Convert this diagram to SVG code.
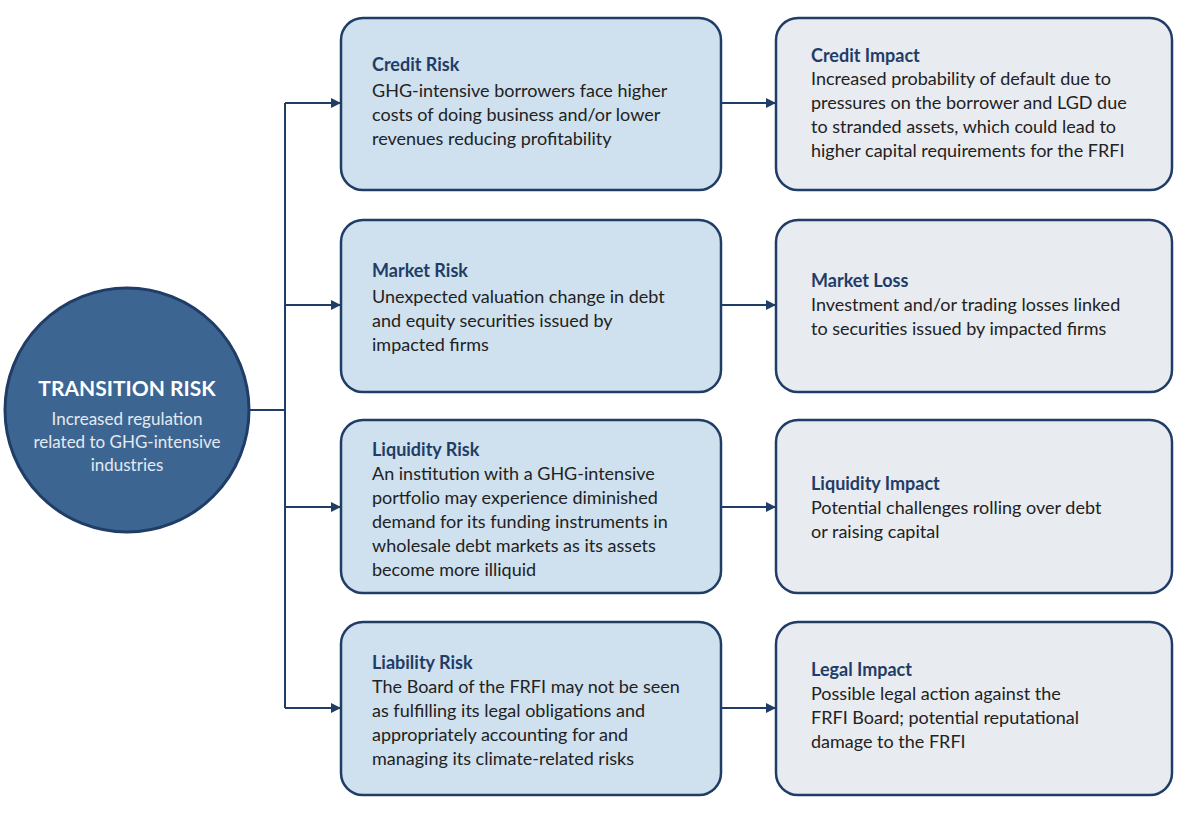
<svg xmlns="http://www.w3.org/2000/svg" width="1200" height="824" viewBox="0 0 1200 824">
<style>
.l{fill:#cfe0ee;stroke:#1f3d66;stroke-width:2.5}
.r{fill:#e8ebf0;stroke:#1f3d66;stroke-width:2.5}
.t{font-family:Lato,"Liberation Sans",sans-serif;font-weight:bold;font-size:18px;fill:#1f3d66}
.b{font-family:Lato,"Liberation Sans",sans-serif;font-size:18px;fill:#222}
.c{stroke:#1f3d66;stroke-width:2;fill:none}
</style>
<defs><marker id="a" markerWidth="10" markerHeight="10" refX="9" refY="5" orient="auto" markerUnits="userSpaceOnUse"><path d="M0,0 L10,5 L0,10 Z" fill="#1f3d66"/></marker></defs>
<rect width="1200" height="824" fill="#fff"/>
<g id="connectors">
<path class="c" d="M249,410 H285 M285,103 V708"/>
<path class="c" marker-end="url(#a)" d="M285,103 H340"/>
<path class="c" marker-end="url(#a)" d="M285,305 H340"/>
<path class="c" marker-end="url(#a)" d="M285,507 H340"/>
<path class="c" marker-end="url(#a)" d="M285,708 H340"/>
<path class="c" marker-end="url(#a)" d="M721,103 H775"/>
<path class="c" marker-end="url(#a)" d="M721,305 H775"/>
<path class="c" marker-end="url(#a)" d="M721,507 H775"/>
<path class="c" marker-end="url(#a)" d="M721,708 H775"/>
</g>
<g id="transition">
<circle cx="127" cy="410" r="122" fill="#3d6591" stroke="#1f3d66" stroke-width="3"/>
<text x="127" y="396" text-anchor="middle" font-family="Lato,'Liberation Sans',sans-serif" font-weight="bold" font-size="21" fill="#fff">TRANSITION RISK</text>
<text x="127" y="425" text-anchor="middle" font-family="Lato,'Liberation Sans',sans-serif" font-size="17" fill="#e3eaf3">Increased regulation</text>
<text x="127" y="448" text-anchor="middle" font-family="Lato,'Liberation Sans',sans-serif" font-size="17" fill="#e3eaf3">related to GHG-intensive</text>
<text x="127" y="471" text-anchor="middle" font-family="Lato,'Liberation Sans',sans-serif" font-size="17" fill="#e3eaf3">industries</text>
</g>
<g id="credit-risk"><rect class="l" x="341" y="18" width="380" height="172" rx="22"/>
<text class="t" x="372" y="71">Credit Risk</text>
<text class="b" x="372" y="97">GHG-intensive borrowers face higher</text>
<text class="b" x="372" y="121">costs of doing business and/or lower</text>
<text class="b" x="372" y="145">revenues reducing profitability</text></g>
<g id="credit-impact"><rect class="r" x="776" y="18" width="396" height="172" rx="22"/>
<text class="t" x="811" y="62">Credit Impact</text>
<text class="b" x="811" y="85">Increased probability of default due to</text>
<text class="b" x="811" y="109">pressures on the borrower and LGD due</text>
<text class="b" x="811" y="133">to stranded assets, which could lead to</text>
<text class="b" x="811" y="157">higher capital requirements for the FRFI</text></g>
<g id="market-risk"><rect class="l" x="341" y="220" width="380" height="172" rx="22"/>
<text class="t" x="372" y="277">Market Risk</text>
<text class="b" x="372" y="303">Unexpected valuation change in debt</text>
<text class="b" x="372" y="327">and equity securities issued by</text>
<text class="b" x="372" y="351">impacted firms</text></g>
<g id="market-loss"><rect class="r" x="776" y="220" width="396" height="172" rx="22"/>
<text class="t" x="811" y="287">Market Loss</text>
<text class="b" x="811" y="311">Investment and/or trading losses linked</text>
<text class="b" x="811" y="335">to securities issued by impacted firms</text></g>
<g id="liquidity-risk"><rect class="l" x="341" y="420" width="380" height="173" rx="22"/>
<text class="t" x="372" y="456">Liquidity Risk</text>
<text class="b" x="372" y="480">An institution with a GHG-intensive</text>
<text class="b" x="372" y="504">portfolio may experience diminished</text>
<text class="b" x="372" y="528">demand for its funding instruments in</text>
<text class="b" x="372" y="552">wholesale debt markets as its assets</text>
<text class="b" x="372" y="576">become more illiquid</text></g>
<g id="liquidity-impact"><rect class="r" x="776" y="420" width="396" height="173" rx="22"/>
<text class="t" x="811" y="490">Liquidity Impact</text>
<text class="b" x="811" y="514">Potential challenges rolling over debt</text>
<text class="b" x="811" y="538">or raising capital</text></g>
<g id="liability-risk"><rect class="l" x="341" y="622" width="380" height="173" rx="22"/>
<text class="t" x="372" y="669">Liability Risk</text>
<text class="b" x="372" y="693">The Board of the FRFI may not be seen</text>
<text class="b" x="372" y="717">as fulfilling its legal obligations and</text>
<text class="b" x="372" y="741">appropriately accounting for and</text>
<text class="b" x="372" y="765">managing its climate-related risks</text></g>
<g id="legal-impact"><rect class="r" x="776" y="622" width="396" height="173" rx="22"/>
<text class="t" x="811" y="676">Legal Impact</text>
<text class="b" x="811" y="700">Possible legal action against the</text>
<text class="b" x="811" y="724">FRFI Board; potential reputational</text>
<text class="b" x="811" y="748">damage to the FRFI</text></g>
</svg>
